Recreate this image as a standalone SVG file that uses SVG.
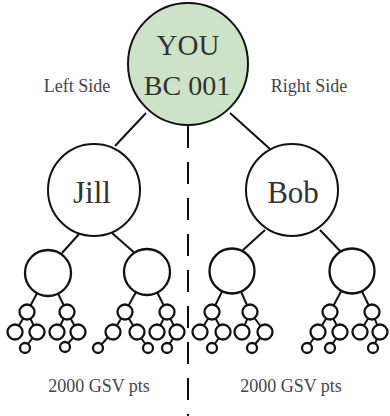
<svg xmlns="http://www.w3.org/2000/svg" width="390" height="416" viewBox="0 0 390 416">
<style>
.big{fill:#fff;stroke:#111;stroke-width:2}
.sm{fill:#fff;stroke:#111;stroke-width:2.3}
.ln{stroke:#111;stroke-width:2;fill:none}
.t{font-family:"Liberation Serif","Times New Roman",serif;text-anchor:middle}
.lbl{font-size:18px;fill:#444}
</style>
<rect width="390" height="416" fill="#fff"/>
<g id="connectors" class="ln">
<line x1="146" y1="113" x2="115" y2="146"/>
<line x1="230" y1="113" x2="270" y2="149"/>
<line x1="188" y1="126" x2="188" y2="416" stroke-dasharray="22 14"/>
<line x1="80" y1="233" x2="62" y2="253"/>
<line x1="112" y1="233" x2="137" y2="255"/>
<line x1="265" y1="230" x2="243" y2="250"/>
<line x1="320" y1="230" x2="342" y2="253"/>
<path d="M48 273L27 312M48 273L67 312M27 312L15 332M27 312L37 332M67 312L57 332M67 312L78 332M37 332L25 348M78 332L65 347"/>
<path d="M147 272L125 312M147 272L167 312M125 312L113 332M125 312L137 332M167 312L157 332M167 312L177 332M113 332L98 348M137 332L148 348M177 332L167 348"/>
<path d="M232 271L212 312M232 271L250 312M212 312L200 332M212 312L223 332M250 312L242 332M250 312L265 332M223 332L212 348M265 332L252 348"/>
<path d="M352 271L330 312M352 271L372 312M330 312L318 332M330 312L340 332M372 312L360 332M372 312L380 332M318 332L307 348M340 332L330 348M380 332L373 348"/>
</g>
<g id="you">
<ellipse cx="188" cy="64" rx="60" ry="61" fill="#cde3c7" stroke="#111" stroke-width="2"/>
<text class="t" x="188" y="55" font-size="29" fill="#333">YOU</text>
<text class="t" x="187" y="95" font-size="28" fill="#333">BC 001</text>
</g>
<g id="left-side"><text class="t lbl" x="77" y="92">Left Side</text></g>
<g id="right-side"><text class="t lbl" x="309" y="92">Right Side</text></g>
<g id="jill">
<circle class="big" cx="94" cy="190" r="46"/>
<text class="t" x="92" y="203" font-size="31" fill="#333">Jill</text>
</g>
<g id="bob">
<circle class="big" cx="292" cy="190" r="46"/>
<text class="t" x="293" y="203" font-size="31" fill="#333">Bob</text>
</g>
<g id="tree-a">
<circle class="sm" cx="48" cy="273" r="23"/>
<circle class="sm" cx="27" cy="312" r="7.5"/><circle class="sm" cx="67" cy="312" r="7.5"/>
<circle class="sm" cx="15" cy="332" r="7.5"/><circle class="sm" cx="37" cy="332" r="7.5"/>
<circle class="sm" cx="57" cy="332" r="7.5"/><circle class="sm" cx="78" cy="332" r="7.5"/>
<circle class="sm" cx="25" cy="348" r="5"/><circle class="sm" cx="65" cy="347" r="5"/>
</g>
<g id="tree-b">
<circle class="sm" cx="147" cy="272" r="23"/>
<circle class="sm" cx="125" cy="312" r="7.5"/><circle class="sm" cx="167" cy="312" r="7.5"/>
<circle class="sm" cx="113" cy="332" r="7.5"/><circle class="sm" cx="137" cy="332" r="7.5"/>
<circle class="sm" cx="157" cy="332" r="7.5"/><circle class="sm" cx="177" cy="332" r="7.5"/>
<circle class="sm" cx="98" cy="348" r="5"/><circle class="sm" cx="148" cy="348" r="5"/><circle class="sm" cx="167" cy="348" r="5"/>
</g>
<g id="tree-c">
<circle class="sm" cx="232" cy="271" r="22.5"/>
<circle class="sm" cx="212" cy="312" r="7.5"/><circle class="sm" cx="250" cy="312" r="7.5"/>
<circle class="sm" cx="200" cy="332" r="7.5"/><circle class="sm" cx="223" cy="332" r="7.5"/>
<circle class="sm" cx="242" cy="332" r="7.5"/><circle class="sm" cx="265" cy="332" r="7.5"/>
<circle class="sm" cx="212" cy="348" r="5" stroke-width="3"/><circle class="sm" cx="252" cy="348" r="5"/>
</g>
<g id="tree-d">
<circle class="sm" cx="352" cy="271" r="22.5"/>
<circle class="sm" cx="330" cy="312" r="7.5"/><circle class="sm" cx="372" cy="312" r="7.5"/>
<circle class="sm" cx="318" cy="332" r="7.5"/><circle class="sm" cx="340" cy="332" r="7.5"/>
<circle class="sm" cx="360" cy="332" r="7.5"/><circle class="sm" cx="380" cy="332" r="7.5"/>
<circle class="sm" cx="307" cy="348" r="5"/><circle class="sm" cx="330" cy="348" r="5" stroke-width="3"/><circle class="sm" cx="373" cy="348" r="5"/>
</g>
<g id="left-pts"><text class="t lbl" x="99" y="392">2000 GSV pts</text></g>
<g id="right-pts"><text class="t lbl" x="291" y="392">2000 GSV pts</text></g>
</svg>
